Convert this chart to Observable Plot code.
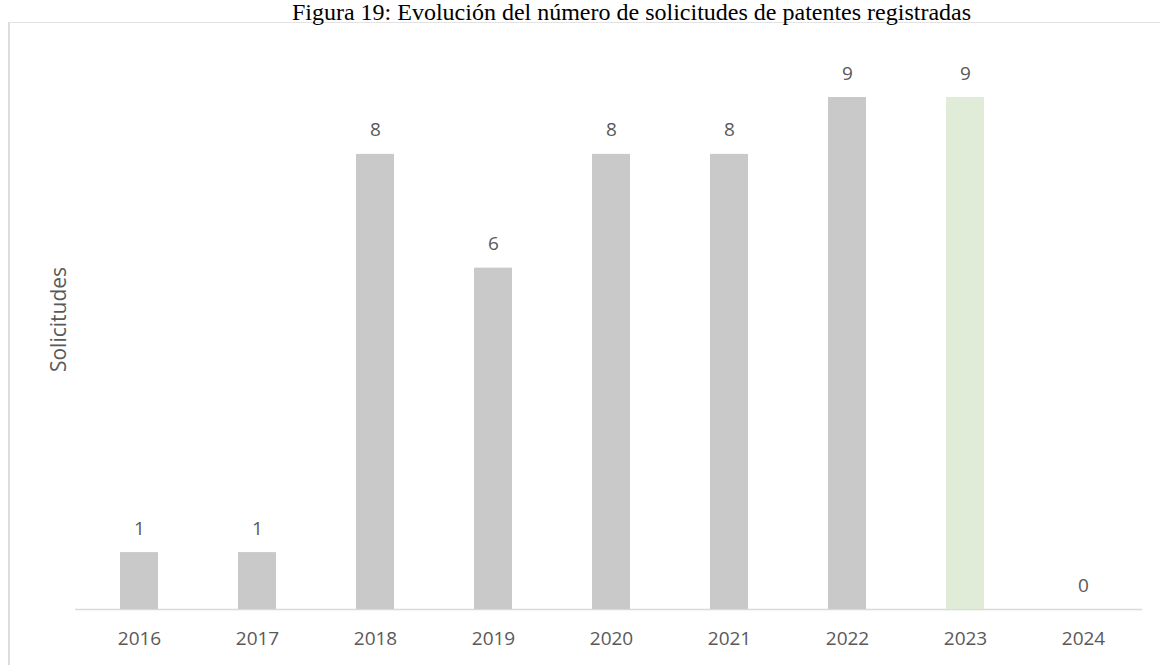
<!DOCTYPE html>
<html>
<head>
<meta charset="utf-8">
<script src="https://cdn.jsdelivr.net/npm/d3@7"></script>
<script src="https://cdn.jsdelivr.net/npm/@observablehq/plot@0.6"></script>
<style>
  body { margin: 0; background: #fff; width: 1163px; height: 665px; overflow: hidden; position: relative; }
  #frame { position: absolute; left: 8px; top: 22px; width: 1150px; height: 660px;
           border-left: 2px solid #dcdcdc; border-top: 1px solid #e3e3e3; }
  #title { position: absolute; left: 0; top: 0px; width: 1163px; text-align: center; padding-left: 100px; box-sizing: border-box;
           white-space: nowrap; line-height: 24px;
           font-family: "Liberation Serif", "Times New Roman", serif; font-size: 24px; color: #000; }
  #chart { position: absolute; left: 0; top: 20px; }
</style>
</head>
<body>
<div id="frame"></div>
<div id="title">Figura 19: Evolución del número de solicitudes de patentes registradas</div>
<div id="chart"></div>
<script>
const years = ["2016", "2017", "2018", "2019", "2020", "2021", "2022", "2023", "2024"];
const solicitudes = [1, 1, 8, 6, 8, 8, 9, 9, 0];
const highlightYear = "2023";
const yLabel = "Solicitudes";

const data = years.map((y, i) => ({year: y, value: solicitudes[i]}));

const chart = Plot.plot({
  width: 1163,
  height: 645,
  marginLeft: 80,
  marginRight: 21,
  marginTop: 77,
  marginBottom: 56,
  style: {background: "transparent", fontFamily: "'Open Sans', sans-serif"},
  x: {domain: years, paddingInner: 0.68, paddingOuter: 0.34, label: null},
  y: {domain: [0, 9], axis: null},
  marks: [
    Plot.ruleY([0], {stroke: "#d9d9d9", strokeWidth: 1.5, insetLeft: -5}),
    Plot.barY(data, {x: "year", y: "value",
      fill: d => d.year === highlightYear ? "#e0ecd8" : "#c9c9c9"}),
    Plot.text(data, {x: "year", y: "value", text: d => String(d.value), dy: -24,
      fontSize: 19, fill: "#595959"}),
    Plot.axisX({tickSize: 0, tickPadding: 22, fontSize: 19, color: "#595959", label: null}),
    Plot.text([yLabel], {frameAnchor: "left", textAnchor: "middle", dx: -21, dy: -34, rotate: -90,
      fontSize: 21, fill: "#595959"})
  ]
});
document.getElementById("chart").appendChild(chart);
</script>
</body>
</html>
